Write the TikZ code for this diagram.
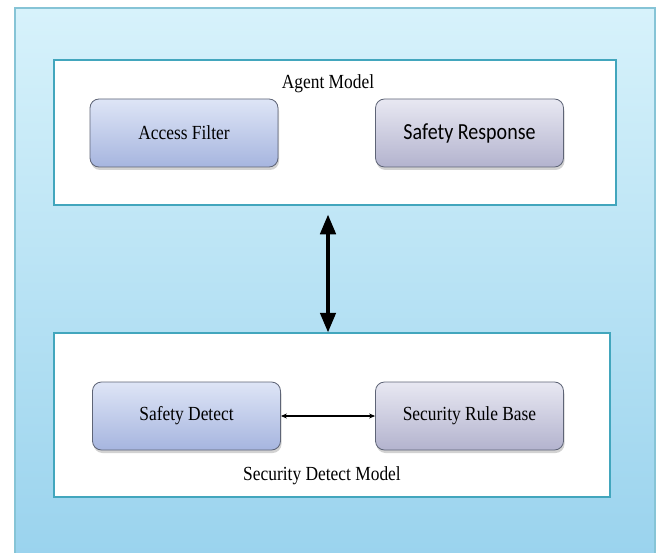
\documentclass[tikz,border=0pt]{standalone}
\usepackage{fontspec}
\usepackage{graphicx}
\setmainfont{Liberation Serif}
\newfontfamily\roundsans{Carlito}
\usetikzlibrary{shadows,arrows.meta}

\definecolor{bgTop}{HTML}{D7F2FB}
\definecolor{bgBot}{HTML}{98D2ED}
\definecolor{bgLine}{HTML}{86C4D6}
\definecolor{panelLine}{HTML}{42A6BD}
\definecolor{blockLine}{HTML}{5E6476}
\definecolor{blueTop}{HTML}{DEE5F6}
\definecolor{blueBot}{HTML}{A6B5DF}
\definecolor{greyTop}{HTML}{E8E8F2}
\definecolor{greyBot}{HTML}{B3B3CE}

% slightly condensed lettering
\newcommand\narrowtxt[1]{\scalebox{0.87}[1]{#1}}

\begin{document}
\begin{tikzpicture}[x=1pt,y=-1pt,
  panel/.style={draw=panelLine, line width=2.5pt, fill=white, inner sep=0pt},
  block/.style={rounded corners=9pt, draw=blockLine, line width=0.8pt,
    minimum width=188pt, minimum height=68pt, inner sep=0pt,
    font=\fontsize{20}{24}\selectfont,
    drop shadow={shadow xshift=1pt, shadow yshift=-3pt, opacity=0.35}},
  blueblock/.style={block, top color=blueTop, bottom color=blueBot},
  greyblock/.style={block, top color=greyTop, bottom color=greyBot},
  caption/.style={font=\fontsize{20}{24}\selectfont, inner sep=0pt},
  bigarrow/.style={line width=4.5pt, {Triangle[length=20pt,width=15pt]}-{Triangle[length=20pt,width=15pt]}},
  smallarrow/.style={line width=1.3pt, {Stealth[length=6pt,width=5pt]}-{Stealth[length=6pt,width=5pt]}}
]
\useasboundingbox (0,0) rectangle (660,553);
\clip (0,0) rectangle (660,553);
\fill[white] (0,0) rectangle (660,553);

% background frame
\node[draw=bgLine, line width=1.5pt, top color=bgTop, bottom color=bgBot,
  minimum width=640pt, minimum height=566pt, inner sep=0pt] (frame) at (335,291) {};

% upper panel
\node[panel, minimum width=562pt, minimum height=145pt] (agent) at (335,132.5) {};
\node[caption] (agentlbl) at (328,84) {\narrowtxt{Agent Model}};
\node[blueblock] (filter) at (184,133) {\narrowtxt{Access Filter}};
\node[greyblock, font=\roundsans\fontsize{23}{27}\selectfont] (response) at (469.5,133) {\narrowtxt{Safety Response}};

% lower panel
\node[panel, minimum width=556pt, minimum height=164pt] (detect) at (332,415) {};
\node[caption] (detectlbl) at (322,476) {\narrowtxt{Security Detect Model}};
\node[blueblock] (safedet) at (186.5,416) {\narrowtxt{Safety Detect}};
\node[greyblock] (rules) at (469.5,416) {\narrowtxt{Security Rule Base}};

% connectors
\coordinate (axis) at (328,0);
\draw[bigarrow, shorten <=8pt, shorten >=-1pt] (agent.south -| axis) -- (detect.north -| axis);
\draw[smallarrow] (safedet.east) -- (rules.west);
\end{tikzpicture}
\end{document}
